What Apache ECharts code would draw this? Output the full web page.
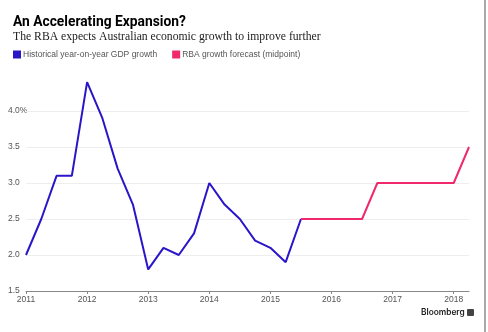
<!DOCTYPE html>
<html>
<head>
<meta charset="utf-8">
<script src="https://cdn.jsdelivr.net/npm/echarts@6/dist/echarts.min.js"></script>
<style>
  html, body { margin: 0; padding: 0; background: #fff; }
  #chart { width: 488px; height: 332px; }
</style>
</head>
<body>
<div id="chart"></div>
<script>
// Quarterly periods (decimal years) and GDP growth, % year-on-year
const histPeriods = [2011, 2011.25, 2011.5, 2011.75, 2012, 2012.25, 2012.5, 2012.75,
  2013, 2013.25, 2013.5, 2013.75, 2014, 2014.25, 2014.5, 2014.75, 2015, 2015.25, 2015.5];
const histValues = [2.0, 2.5, 3.1, 3.1, 4.4, 3.9, 3.2, 2.7,
  1.8, 2.1, 2.0, 2.3, 3.0, 2.7, 2.5, 2.2, 2.1, 1.9, 2.5];

// RBA forecast midpoint
const fcPeriods = [2015.5, 2015.75, 2016, 2016.25, 2016.5, 2016.75, 2017, 2017.25,
  2017.5, 2017.75, 2018, 2018.25];
const fcValues = [2.5, 2.5, 2.5, 2.5, 2.5, 3.0, 3.0, 3.0, 3.0, 3.0, 3.0, 3.5];

const yTicks = [1.5, 2.0, 2.5, 3.0, 3.5, 4.0];
const gridValues = [2.0, 2.5, 3.0, 3.5, 4.0];
const legendNames = ['Historical year-on-year GDP growth', 'RBA growth forecast (midpoint)'];

const BLUE = '#2a16c8';
const PINK = '#f0286e';

const chart = echarts.init(document.getElementById('chart'));
chart.setOption({
  animation: false,
  backgroundColor: '#fff',
  title: [
    {
      text: 'An Accelerating Expansion?',
      left: 8, top: 11,
      textStyle: { fontFamily: 'Roboto', fontWeight: 'bold', fontSize: 13.8, color: '#000' }
    },
    {
      text: 'The RBA expects Australian economic growth to improve further',
      left: 8, top: 26,
      textStyle: { fontFamily: 'Liberation Serif', fontWeight: 'normal', fontSize: 11.7, color: '#222' }
    },
    {
      text: 'Bloomberg',
      left: 416, top: 304,
      textStyle: { fontFamily: 'Inter', fontWeight: 600, fontSize: 8.3, color: '#222' }
    }
  ],
  legend: {
    left: 8, top: 45,
    itemWidth: 8, itemHeight: 8, itemGap: 15,
    icon: 'rect',
    textStyle: { fontFamily: 'Liberation Sans', fontSize: 8.5, color: '#555', padding: [0, 0, 0, -3] },
    data: legendNames
  },
  graphic: [
    { type: 'rect', left: 467, top: 309, shape: { width: 7, height: 7, r: 1 }, style: { fill: '#444' } },
    { type: 'line', shape: { x1: 485, y1: 0, x2: 485, y2: 332 }, style: { stroke: '#555', lineWidth: 1 } }
  ],
  grid: { left: 26, right: 19, top: 78.6, bottom: 41 },
  xAxis: {
    type: 'value',
    min: 2011, max: 2018.25, interval: 1,
    axisLine: { show: true, lineStyle: { color: '#888', width: 1 } },
    axisTick: { show: true, length: 3, lineStyle: { color: '#888' } },
    splitLine: { show: false },
    axisLabel: {
      fontFamily: 'Liberation Sans', fontSize: 8.5, color: '#555', margin: 4,
      showMaxLabel: false,
      formatter: v => Number.isInteger(v) ? String(v) : ''
    }
  },
  yAxis: {
    type: 'value',
    min: 1.5, max: 4.45, interval: 0.5,
    axisLine: { show: false },
    axisTick: { show: false },
    splitLine: { show: false },
    axisLabel: {
      fontFamily: 'Liberation Sans', fontSize: 8.5, color: '#555',
      align: 'left', margin: 18,
      formatter: v => {
        const s = yTicks.find(t => Math.abs(t - v) < 1e-6);
        if (s === undefined) return '';
        return s === 4.0 ? '4.0%' : s.toFixed(1);
      }
    }
  },
  series: [
    {
      name: legendNames[0], type: 'line', color: BLUE, z: 3,
      data: histPeriods.map((p, i) => [p, histValues[i]]),
      symbol: 'none', lineStyle: { color: BLUE, width: 2 },
      // horizontal gridlines at the labelled values
      markLine: {
        silent: true, symbol: 'none', label: { show: false }, z: 1,
        lineStyle: { color: '#eeeeee', width: 1, type: 'solid' },
        data: gridValues.map(v => ({ yAxis: v }))
      }
    },
    {
      name: legendNames[1], type: 'line', color: PINK, z: 3,
      data: fcPeriods.map((p, i) => [p, fcValues[i]]),
      symbol: 'none', lineStyle: { color: PINK, width: 2 }
    }
  ]
});
</script>
</body>
</html>
